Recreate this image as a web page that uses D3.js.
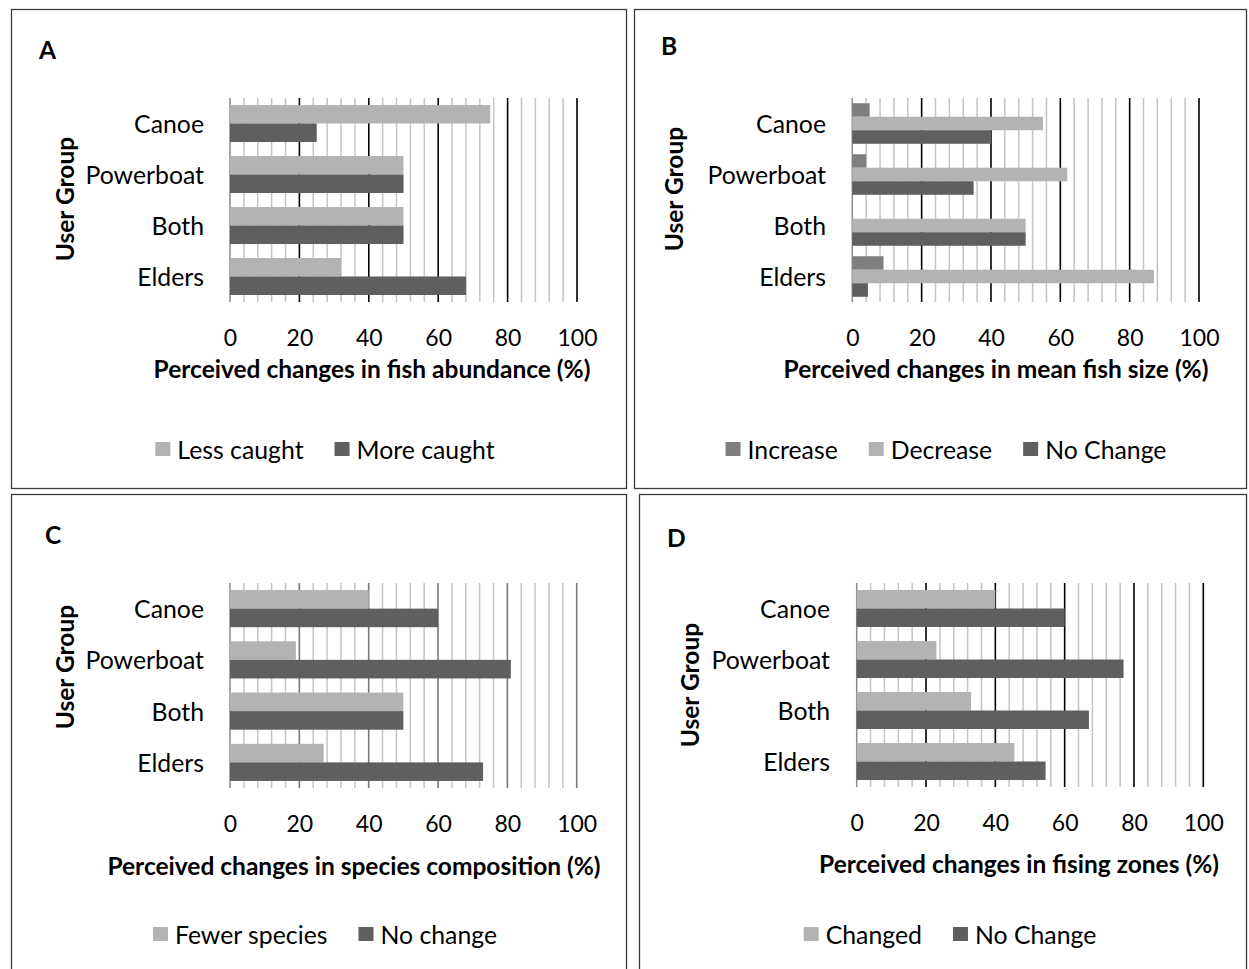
<!DOCTYPE html>
<html><head><meta charset="utf-8">
<script src="https://cdn.jsdelivr.net/npm/d3@7"></script>
<style>
html,body{margin:0;padding:0;background:#fff;}
svg{display:block;}
text{font-family:Lato,"Open Sans",sans-serif;fill:#000;}
</style></head>
<body>
<svg id="chart" width="1249" height="969"></svg>
<script>
// ---------- data ----------
const categories = ["Canoe", "Powerboat", "Both", "Elders"];
const tickValues = [0, 20, 40, 60, 80, 100];

const lessCaught = [75, 50, 50, 32];
const moreCaught = [25, 50, 50, 68];

const sizeIncrease = [5, 4, 0, 9];
const sizeDecrease = [55, 62, 50, 87];
const sizeNoChange = [40, 35, 50, 4.5];

const fewerSpecies = [40, 19, 50, 27];
const compNoChange = [60, 81, 50, 73];

const zonesChanged = [40, 23, 33, 45.5];
const zonesNoChange = [60, 77, 67, 54.5];

const panelLetters = ["A", "B", "C", "D"];
const xTitles = [
  "Perceived changes in fish abundance (%)",
  "Perceived changes in mean fish size (%)",
  "Perceived changes in species composition (%)",
  "Perceived changes in fising zones (%)"
];
const yTitle = "User Group";

const seriesA = [{name: "Less caught", values: lessCaught, color: "#b3b3b3"},
                 {name: "More caught", values: moreCaught, color: "#5f5f5f"}];
const seriesB = [{name: "Increase", values: sizeIncrease, color: "#7f7f7f"},
                 {name: "Decrease", values: sizeDecrease, color: "#b3b3b3"},
                 {name: "No Change", values: sizeNoChange, color: "#5f5f5f"}];
const seriesC = [{name: "Fewer species", values: fewerSpecies, color: "#b3b3b3"},
                 {name: "No change", values: compNoChange, color: "#5f5f5f"}];
const seriesD = [{name: "Changed", values: zonesChanged, color: "#b3b3b3"},
                 {name: "No Change", values: zonesNoChange, color: "#5f5f5f"}];

// ---------- layout ----------
const layouts = [
  {box:[11,9,626,488], px:[230,577], py:[98,302], letter:[39,49], yt:[64,199], catRight:204, tickY:337, xt:[372,368], legY:449, legCx:325, major:"#000", pin:0.275},
  {box:[634,9,1246,488], px:[852.3,1199], py:[98,302], letter:[661,45], yt:[673,189], catRight:826, tickY:337, xt:[996,368], legY:449, legCx:946, major:"#000", pin:0.205},
  {box:[11,494,626,1000], px:[230,576.7], py:[583,788], letter:[45,534], yt:[64.5,667], catRight:204, tickY:823, xt:[354,865], legY:934, legCx:325, major:"#777", pin:0.275},
  {box:[639,494,1246,1000], px:[856.7,1203.3], py:[583,787], letter:[667,537], yt:[689,685], catRight:830, tickY:822, xt:[1019,863], legY:934, legCx:950, major:"#000", pin:0.275}
];
const allSeries = [seriesA, seriesB, seriesC, seriesD];

const svg = d3.select("#chart");
const FS = 24.8, FST = 23, FSB = 24.5;

layouts.forEach((L, i) => {
  const series = allSeries[i];
  const g = svg.append("g");
  // panel border
  g.append("rect").attr("x", L.box[0] + 0.5).attr("y", L.box[1] + 0.5)
    .attr("width", L.box[2] - L.box[0]).attr("height", L.box[3] - L.box[1])
    .attr("fill", "none").attr("stroke", "#3c3c3c").attr("stroke-width", 1.3);

  const x = d3.scaleLinear().domain([0, 100]).range(L.px);
  const y = d3.scaleBand().domain(categories).range(L.py)
    .paddingInner(L.pin).paddingOuter(L.pin / 2);
  const ys = d3.scaleBand().domain(series.map(s => s.name)).range([0, y.bandwidth()]);

  // gridlines
  const grid = d3.range(0, 101, 4);
  g.append("g").selectAll("line").data(grid).join("line")
    .attr("x1", d => x(d)).attr("x2", d => x(d))
    .attr("y1", L.py[0]).attr("y2", L.py[1])
    .attr("stroke", d => d === 0 ? "#8a8a8a" : (d % 20 === 0 ? L.major : "#c4c4c4"))
    .attr("stroke-width", d => d % 20 === 0 && d !== 0 ? 1.6 : 1.5);

  // bars
  series.forEach(s => {
    g.append("g").selectAll("rect").data(categories).join("rect")
      .attr("x", x(0))
      .attr("y", (c) => y(c) + ys(s.name))
      .attr("width", (c, j) => x(s.values[j]) - x(0))
      .attr("height", ys.bandwidth())
      .attr("fill", s.color);
  });

  // category axis
  const ay = g.append("g").attr("transform", `translate(${L.catRight},0)`)
    .call(d3.axisLeft(y).tickSize(0).tickPadding(0));
  ay.select(".domain").remove();
  ay.selectAll("text").attr("font-size", FS).attr("dy", null)
    .attr("dominant-baseline", "central").attr("font-family", "Lato").attr("fill", "#000");

  // value axis
  const ax = g.append("g").attr("transform", `translate(0,${L.tickY})`)
    .call(d3.axisBottom(x).tickValues(tickValues).tickSize(0).tickPadding(0));
  ax.select(".domain").remove();
  ax.selectAll("text").attr("font-size", FST).attr("dy", null).attr("y", 0)
    .attr("dominant-baseline", "central").attr("font-family", "Lato").attr("fill", "#000");

  // panel letter
  g.append("text").attr("x", L.letter[0]).attr("y", L.letter[1])
    .attr("dominant-baseline", "central").attr("font-weight", "bold")
    .attr("font-size", FSB).text(panelLetters[i]);

  // y title
  g.append("text").attr("transform", `translate(${L.yt[0]},${L.yt[1]}) rotate(-90)`)
    .attr("text-anchor", "middle").attr("dominant-baseline", "central")
    .attr("font-weight", "bold").attr("font-size", FSB).text(yTitle);

  // x title
  g.append("text").attr("x", L.xt[0]).attr("y", L.xt[1])
    .attr("text-anchor", "middle").attr("dominant-baseline", "central")
    .attr("font-weight", "bold").attr("font-size", FSB).text(xTitles[i]);

  // legend
  const leg = g.append("g");
  let cx = 0;
  series.forEach(s => {
    const it = leg.append("g").attr("transform", `translate(${cx},0)`);
    it.append("rect").attr("x", 0).attr("y", L.legY - 7).attr("width", 15).attr("height", 14).attr("fill", s.color);
    const t = it.append("text").attr("x", 22).attr("y", L.legY).attr("dominant-baseline", "central")
      .attr("font-size", FS).text(s.name);
    const w = t.node().getComputedTextLength();
    cx += 22 + w + 31;
  });
  const totalW = cx - 31;
  leg.attr("transform", `translate(${L.legCx - totalW / 2},0)`);
});
</script>
</body></html>
